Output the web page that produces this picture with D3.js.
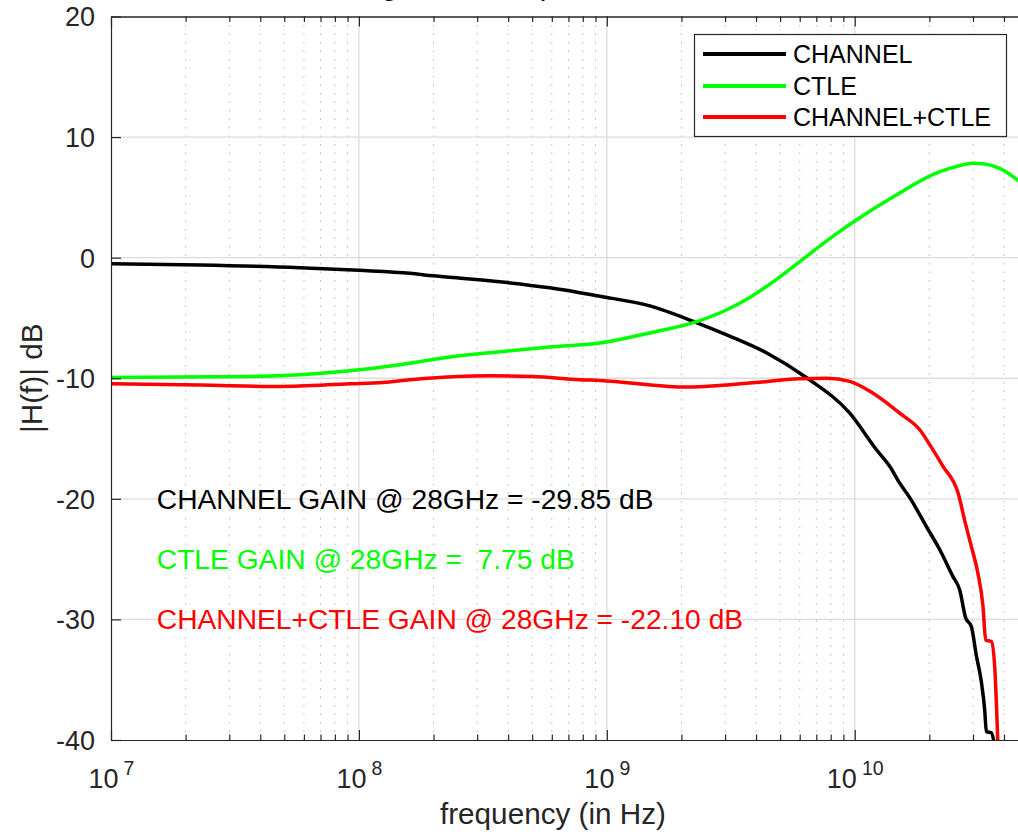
<!DOCTYPE html>
<html>
<head>
<meta charset="utf-8">
<script src="https://cdn.jsdelivr.net/npm/d3@7"></script>
<style>
  body { margin: 0; background: #fff; }
  svg { display: block; font-family: "Liberation Sans", Arial, Helvetica, sans-serif; }
</style>
</head>
<body>
<svg id="chart" width="1018" height="835"></svg>
<script>
// Channel insertion loss (|H(f)| in dB)
const channelFreqHz = [1.0e7, 2.29e7, 5.78e7, 1.0e8, 1.61e8, 1.99e8, 2.72e8, 3.70e8, 5.89e8, 9.37e8,
  1.49e9, 2.31e9, 3.13e9, 4.42e9, 6.40e9, 9.55e9, 1.224e10, 1.384e10, 1.519e10, 1.667e10,
  1.946e10, 2.201e10, 2.491e10, 2.651e10, 2.8e10, 2.955e10, 3.095e10, 3.243e10, 3.344e10,
  3.396e10, 3.558e10, 3.669e10];
const channelDb = [-0.5, -0.6, -0.83, -1.05, -1.3, -1.5, -1.74, -2.0, -2.5, -3.2,
  -4.0, -5.4, -6.5, -7.9, -9.96, -12.9, -15.93, -17.3, -18.7, -19.9,
  -22.3, -24.2, -26.45, -27.55, -29.85, -30.6, -33.0, -35.2, -37.5,
  -39.3, -39.4, -40.5];

// CTLE transfer function
const ctleFreqHz = [1.0e7, 3.64e7, 5.78e7, 9.2e7, 1.464e8, 2.328e8, 3.70e8, 5.89e8, 9.37e8, 1.49e9,
  2.371e9, 2.99e9, 3.773e9, 4.76e9, 6.0e9, 8.156e9, 1.019e10, 1.519e10, 2.063e10, 2.416e10,
  2.8e10, 2.991e10, 3.3e10, 3.843e10, 4.6e10];
const ctleDb = [-9.93, -9.85, -9.71, -9.38, -8.88, -8.24, -7.8, -7.41, -7.08, -6.25,
  -5.22, -4.4, -3.3, -1.9, -0.33, 1.77, 3.15, 5.37, 6.89, 7.4,
  7.75, 7.83, 7.78, 7.4, 6.35];

// Channel followed by CTLE
const combinedFreqHz = [1.0e7, 2.29e7, 4.8e7, 9.2e7, 1.25e8, 1.61e8, 2.485e8, 3.375e8, 5.03e8, 7.78e8,
  9.37e8, 2.025e9, 3.773e9, 6.0e9, 7.713e9, 9.55e9, 1.182e10, 1.519e10, 1.829e10, 2.063e10,
  2.27e10, 2.61e10, 2.8e10, 2.955e10, 3.142e10, 3.291e10, 3.375e10, 3.558e10, 3.669e10, 3.782e10];
const combinedDb = [-10.46, -10.56, -10.68, -10.46, -10.35, -10.12, -9.85, -9.8, -9.85, -10.12,
  -10.18, -10.73, -10.4, -10.04, -10.0, -10.26, -11.23, -12.9, -14.27, -15.9,
  -17.3, -19.5, -22.1, -23.96, -26.2, -28.9, -31.7, -31.84, -33.9, -40.5];

const seriesNames = ["CHANNEL", "CTLE", "CHANNEL+CTLE"];
const seriesColors = ["#000000", "#00ff00", "#ff0000"];
const yTickValues = [-40, -30, -20, -10, 0, 10, 20];
const xMajorTicks = [1e7, 1e8, 1e9, 1e10];
const gainNotes = [
  "CHANNEL GAIN @ 28GHz = -29.85 dB",
  "CTLE GAIN @ 28GHz =  7.75 dB",
  "CHANNEL+CTLE GAIN @ 28GHz = -22.10 dB"
];
const gainNoteDb = [-20, -25, -30];
const titleText = "Magnitude Response of Channel and CTLE";

const svg = d3.select("#chart");
const plotLeft = 111, plotRight = 1028, plotTop = 16.5, plotBottom = 740;

const x = d3.scaleLog().domain([1e7, 5e10]).range([plotLeft, plotRight]);
const y = d3.scaleLinear().domain([-40, 20]).range([plotBottom, plotTop]);

// minor decade positions 2..9 inside the x domain
const xMinorTicks = [];
for (let e = 7; e <= 10; e++) {
  for (let k = 2; k <= 9; k++) {
    const v = k * Math.pow(10, e);
    if (v <= 5e10) xMinorTicks.push(v);
  }
}

svg.append("defs").append("clipPath").attr("id", "plotClip")
  .append("rect").attr("x", plotLeft).attr("y", plotTop)
  .attr("width", plotRight - plotLeft).attr("height", plotBottom - plotTop);

// grid
const grid = svg.append("g");
grid.selectAll("line.minor").data(xMinorTicks).join("line")
  .attr("x1", d => x(d)).attr("x2", d => x(d))
  .attr("y1", plotTop).attr("y2", plotBottom)
  .attr("stroke", "#b8b8b8").attr("stroke-width", 1)
  .attr("stroke-dasharray", "1.5,7");
grid.selectAll("line.vmajor").data(xMajorTicks.slice(1)).join("line")
  .attr("x1", d => x(d)).attr("x2", d => x(d))
  .attr("y1", plotTop).attr("y2", plotBottom)
  .attr("stroke", "#dcdcdc").attr("stroke-width", 1.3);
grid.selectAll("line.hmajor").data(yTickValues.slice(1, -1)).join("line")
  .attr("x1", plotLeft).attr("x2", plotRight)
  .attr("y1", d => y(d)).attr("y2", d => y(d))
  .attr("stroke", "#dcdcdc").attr("stroke-width", 1.3);

// curves
const line = d3.line()
  .x(d => x(d[0])).y(d => y(d[1]))
  .curve(d3.curveMonotoneX);
const series = [
  d3.zip(channelFreqHz, channelDb),
  d3.zip(ctleFreqHz, ctleDb),
  d3.zip(combinedFreqHz, combinedDb)
];
const curves = svg.append("g").attr("clip-path", "url(#plotClip)");
series.forEach((pts, i) => {
  curves.append("path")
    .attr("d", line(pts))
    .attr("fill", "none")
    .attr("stroke", seriesColors[i])
    .attr("stroke-width", 3.5)
    .attr("stroke-linejoin", "round");
});

// axes
const axisColor = "#262626";
function styleAxis(g) {
  g.attr("font-family", null);
  g.selectAll("path.domain").attr("stroke", axisColor).attr("stroke-width", 1.2);
  g.selectAll(".tick line").attr("stroke", axisColor).attr("stroke-width", 1.2);
}

const bottomMinor = svg.append("g").attr("transform", `translate(0,${plotBottom})`)
  .call(d3.axisBottom(x).tickValues(xMinorTicks).tickSize(-5.5).tickSizeOuter(0).tickFormat(() => ""));
styleAxis(bottomMinor);
const bottomMajor = svg.append("g").attr("transform", `translate(0,${plotBottom})`)
  .call(d3.axisBottom(x).tickValues(xMajorTicks).tickSize(-10).tickSizeOuter(0)
    .tickFormat(() => ""));
styleAxis(bottomMajor);
bottomMajor.selectAll(".tick text").each(function (d) {
  const t = d3.select(this)
    .attr("fill", axisColor)
    .attr("font-size", 27)
    .attr("text-anchor", "middle")
    .attr("dy", null)
    .attr("y", 47.5);
  t.append("tspan").text("10");
  t.append("tspan").attr("font-size", 19.5).attr("dx", 5).attr("dy", -12.5)
    .text(String(Math.round(Math.log10(d))));
});

const topMinor = svg.append("g").attr("transform", `translate(0,${plotTop})`)
  .call(d3.axisTop(x).tickValues(xMinorTicks).tickSize(-5.5).tickSizeOuter(0).tickFormat(() => ""));
styleAxis(topMinor);
const topMajor = svg.append("g").attr("transform", `translate(0,${plotTop})`)
  .call(d3.axisTop(x).tickValues(xMajorTicks).tickSize(-10).tickSizeOuter(0).tickFormat(() => ""));
styleAxis(topMajor);

const leftAxis = svg.append("g").attr("transform", `translate(${plotLeft},0)`)
  .call(d3.axisLeft(y).tickValues(yTickValues).tickSize(-10).tickSizeOuter(0).tickPadding(16)
    .tickFormat(d => String(d)));
styleAxis(leftAxis);
leftAxis.selectAll(".tick text").attr("fill", axisColor).attr("font-size", 27).attr("dy", "0.35em");

// axis labels
svg.append("text")
  .attr("x", 553).attr("y", 824)
  .attr("text-anchor", "middle")
  .attr("font-size", 29.7)
  .attr("fill", axisColor)
  .text("frequency (in Hz)");
svg.append("text")
  .attr("transform", `translate(42,${(plotTop + plotBottom) / 2}) rotate(-90)`)
  .attr("text-anchor", "middle")
  .attr("font-size", 29.7)
  .attr("fill", axisColor)
  .text("|H(f)| dB");

// title: only its descenders reach into the figure's top margin
svg.append("text")
  .attr("x", 340).attr("y", -5)
  .attr("font-size", 29.7)
  .attr("fill", "#000")
  .text(titleText);

// gain annotations at 28 GHz
svg.append("g").selectAll("text").data(gainNotes).join("text")
  .attr("x", x(1.53e7))
  .attr("y", (d, i) => y(gainNoteDb[i]))
  .attr("dy", "0.35em")
  .attr("font-size", 28.2)
  .attr("fill", (d, i) => seriesColors[i])
  .style("white-space", "pre")
  .text(d => d);

// legend
const legend = svg.append("g");
legend.append("rect")
  .attr("x", 694.5).attr("y", 34.5).attr("width", 312).attr("height", 102)
  .attr("fill", "#fff").attr("stroke", axisColor).attr("stroke-width", 1.2);
const rowY = [54, 86, 117];
seriesNames.forEach((name, i) => {
  legend.append("line")
    .attr("x1", 703).attr("x2", 786)
    .attr("y1", rowY[i]).attr("y2", rowY[i])
    .attr("stroke", seriesColors[i]).attr("stroke-width", 4);
  legend.append("text")
    .attr("x", 793).attr("y", rowY[i]).attr("dy", "0.35em")
    .attr("font-size", 25)
    .attr("fill", "#000")
    .text(name);
});
</script>
</body>
</html>
